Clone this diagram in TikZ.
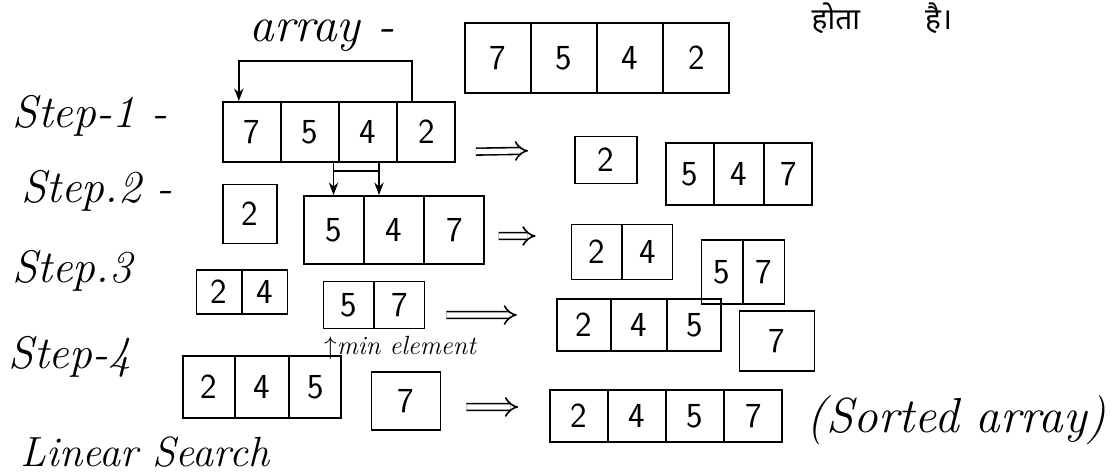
\documentclass[tikz,border=0pt]{standalone}
\usepackage{fontspec}
\newfontfamily\hindi[Script=Devanagari]{Noto Sans}
\usetikzlibrary{arrows.meta, calc, shapes.multipart}

\begin{document}
\begin{tikzpicture}[x=0.02cm, y=-0.02cm, >={Stealth[length=2.5mm]}, line width=1pt,
  box/.style={draw, line width=1.1pt, font=\fontsize{20}{24}\selectfont\sffamily},
  cells/.style={box, rectangle split, rectangle split horizontal, rectangle split parts=#1},
  lbl/.style={font=\fontsize{26}{30}\selectfont\itshape},
  implies/.style={double, double distance=3pt, line width=0.9pt, -{Implies}}]
  \useasboundingbox (0,0) rectangle (1115,472);
  \clip (0,0) rectangle (1115,472);
  % top line
  \node[font=\fontsize{17}{20}\selectfont\hindi, anchor=base west] (title) at (805,30) {होता\hspace{1.3cm}है।};
  \node[lbl, font=\fontsize{28}{32}\selectfont\itshape] (arraylbl) at (322,36) {array -};
  \node[cells=4, inner xsep=0.48cm, minimum height=1.4cm] (init) at (597,58) {7 \nodepart{two} 5 \nodepart{three} 4 \nodepart{four} 2};
  % step 1
  \node[lbl] (lbl1) at (90,116) {Step-1 -};
  \node[cells=4, inner xsep=0.4cm, minimum height=1.2cm] (step1) at (339,132) {7 \nodepart{two} 5 \nodepart{three} 4 \nodepart{four} 2};
  \node[box, minimum width=1.24cm, minimum height=0.94cm] (res1a) at (606,160) {2};
  \node[cells=3, inner xsep=0.31cm, minimum height=1.24cm] (res1b) at (739,174) {5 \nodepart{two} 4 \nodepart{three} 7};
  % step 2
  \node[lbl] (lbl2) at (97,191) {Step.2 -};
  \node[box, minimum width=1.08cm, minimum height=1.18cm] (step2a) at (250,214) {2};
  \node[cells=3, inner xsep=0.42cm, minimum height=1.36cm] (step2b) at (394,230) {5 \nodepart{two} 4 \nodepart{three} 7};
  \node[cells=2, inner xsep=0.33cm, minimum height=1.1cm] (res2a) at (622,252) {2 \nodepart{two} 4};
  \node[cells=2, inner xsep=0.24cm, minimum height=1.28cm] (res2b) at (743,272) {5 \nodepart{two} 7};
  % step 3
  \node[lbl] (lbl3) at (72,271) {Step.3};
  \node[cells=2, inner xsep=0.28cm, minimum height=0.88cm] (step3a) at (242,292) {2 \nodepart{two} 4};
  \node[cells=2, inner xsep=0.33cm, minimum height=0.94cm] (step3b) at (374,305) {5 \nodepart{two} 7};
  \node[font=\fontsize{15}{18}\selectfont\itshape] (minlbl) at (400,348) {$\uparrow$min element};
  \node[cells=3, inner xsep=0.37cm, minimum height=1.04cm] (res3a) at (639,325) {2 \nodepart{two} 4 \nodepart{three} 5};
  \node[box, minimum width=1.5cm, minimum height=1.2cm] (res3b) at (777,341) {7};
  % step 4
  \node[lbl] (lbl4) at (70,357) {Step-4};
  \node[cells=3, inner xsep=0.35cm, minimum height=1.24cm] (step4a) at (262,387) {2 \nodepart{two} 4 \nodepart{three} 5};
  \node[box, minimum width=1.38cm, minimum height=1.16cm] (step4b) at (406,401) {7};
  \node[cells=4, inner xsep=0.4cm, minimum height=1.04cm] (sorted) at (666,416) {2 \nodepart{two} 4 \nodepart{three} 5 \nodepart{four} 7};
  \node[lbl, font=\fontsize{28}{32}\selectfont\itshape, anchor=west] (sortedlbl) at (800,420) {(Sorted array)};
  \node[lbl, font=\fontsize{24}{28}\selectfont\itshape, anchor=base west] (linear) at (14,466) {Linear Search};
  % swaps
  \draw[->] ([xshift=-0.3cm]step1.four north) |- ([xshift=-0.25cm, yshift=0.8cm]step1.one north) -- ([xshift=-0.25cm]step1.one north);
  \coordinate (d1) at (step2b.one north);
  \coordinate (d2) at ([xshift=-0.3cm]step2b.two north);
  \coordinate (t1) at (step1.south -| d1);
  \coordinate (t2) at (step1.south -| d2);
  \draw[->] (t1) -- (d1);
  \draw[->] (t2) -- (d2);
  \draw ([yshift=-0.16cm]t1) -- ([yshift=-0.16cm]t2);
  % results
  \draw[implies, shorten <=0.4cm, shorten >=0.92cm] ([yshift=-0.4cm]step1.east) -- ([yshift=0.2cm]res1a.west);
  \draw[implies, shorten <=0.28cm, shorten >=0.7cm] ([yshift=-0.12cm]step2b.east) -- ([yshift=0.32cm]res2a.west);
  \draw[implies, shorten <=0.42cm, shorten >=0.78cm] ([yshift=-0.2cm]step3b.east) -- ([yshift=0.2cm]res3a.west);
  \draw[implies, shorten <=0.5cm, shorten >=0.62cm] ([yshift=-0.12cm]step4b.east) -- ([yshift=0.18cm]sorted.west);
\end{tikzpicture}
\end{document}
